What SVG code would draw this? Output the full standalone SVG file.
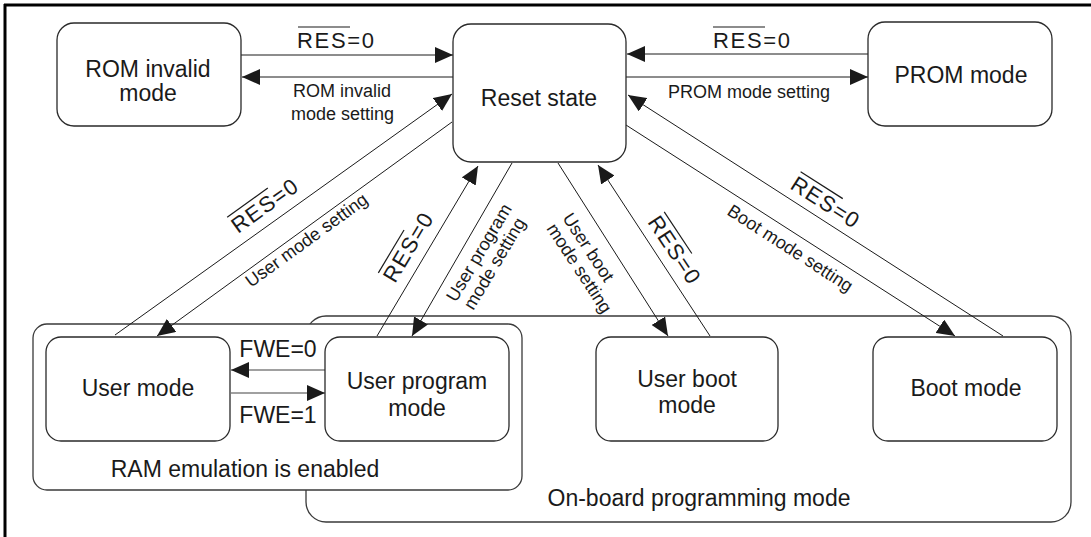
<svg xmlns="http://www.w3.org/2000/svg" width="1091" height="537" viewBox="0 0 1091 537">
<style>
  text { font-family: "Liberation Sans", Arial, sans-serif; fill: #1a1a1a; }
  .big { font-size: 23px; text-anchor: middle; }
  .sm { font-size: 18px; }
  .res { font-size: 22px; }
  .box { fill: #fff; stroke: #2a2a2a; stroke-width: 1.3; }
  .cont { fill: #fff; stroke: #3a3a3a; stroke-width: 1.3; }
  .conn { fill: none; stroke: #1a1a1a; stroke-width: 1; marker-end: url(#ah); }
  .fwe { fill: none; stroke: #808080; stroke-width: 1.6; marker-end: url(#ah); }
  .ovl { stroke: #1a1a1a; stroke-width: 1.2; }
</style>
<defs>
  <marker id="ah" viewBox="0 0 18 16" refX="18" refY="8" markerWidth="18" markerHeight="16" markerUnits="userSpaceOnUse" orient="auto">
    <path d="M0,0 L18,8 L0,16 z" fill="#1a1a1a"/>
  </marker>
</defs>
<rect width="1091" height="537" fill="#fff"/>
<!-- frame -->
<g id="frame" stroke="#000" stroke-width="3">
  <line x1="4" y1="5" x2="1091" y2="5"/>
  <line x1="5" y1="4" x2="5" y2="537"/>
</g>
<!-- containers -->
<g id="onboard">
  <rect class="cont" x="306" y="316" width="765" height="206" rx="20"/>
  <text class="big" x="699" y="506">On-board programming mode</text>
</g>
<g id="ram">
  <rect class="cont" x="33" y="324" width="489" height="166" rx="14"/>
  <text class="big" x="245" y="477">RAM emulation is enabled</text>
</g>
<!-- connectors -->
<g id="connectors">
  <path class="conn" d="M241,55 H453"/>
  <path class="conn" d="M453,77 H242"/>
  <path class="conn" d="M868,54 H627"/>
  <path class="conn" d="M626,77 H868"/>
  <path class="conn" d="M115,335 L452,94"/>
  <path class="conn" d="M452,122 L157,336"/>
  <path class="conn" d="M377,336 L478,166"/>
  <path class="conn" d="M512,163 L412,336"/>
  <path class="conn" d="M558,163 L668,336"/>
  <path class="conn" d="M710,336 L598,165"/>
  <path class="conn" d="M626,125 L955,336"/>
  <path class="conn" d="M1003,336 L628,95"/>
  <path class="fwe" d="M325,370 H231"/>
  <path class="fwe" d="M231,393 H325"/>
  <!-- labels -->
  <g>
    <text class="res" x="297" y="48" textLength="77">RES=0</text>
    <line class="ovl" x1="298" y1="27" x2="350" y2="27"/>
  </g>
  <text class="sm" x="293" y="97">ROM invalid</text>
  <text class="sm" x="291" y="120">mode setting</text>
  <g>
    <text class="res" x="713" y="48" textLength="77">RES=0</text>
    <line class="ovl" x1="713" y1="27" x2="765" y2="27"/>
  </g>
  <text class="sm" x="668" y="98">PROM mode setting</text>
  <g transform="translate(238,234) rotate(-35.6)">
    <text class="res" x="0" y="0" textLength="76">RES=0</text>
    <line class="ovl" x1="1" y1="-20" x2="51" y2="-20"/>
  </g>
  <g transform="translate(251,288) rotate(-36)">
    <text class="sm" x="0" y="0">User mode setting</text>
  </g>
  <g transform="translate(395,284) rotate(-59.1)">
    <text class="res" x="0" y="0" textLength="76">RES=0</text>
    <line class="ovl" x1="1" y1="-20" x2="51" y2="-20"/>
  </g>
  <g transform="translate(456,303) rotate(-59.2)">
    <text class="sm" x="0" y="0">User program</text>
    <text class="sm" x="2" y="19">mode setting</text>
  </g>
  <g transform="translate(562,218) rotate(56.8)">
    <text class="sm" x="0" y="0">User boot</text>
    <text class="sm" x="0" y="19">mode setting</text>
  </g>
  <g transform="translate(647,222) rotate(56.5)">
    <text class="res" x="0" y="0" textLength="76">RES=0</text>
    <line class="ovl" x1="1" y1="-20" x2="51" y2="-20"/>
  </g>
  <g transform="translate(726,214) rotate(32.8)">
    <text class="sm" x="0" y="0">Boot mode setting</text>
  </g>
  <g transform="translate(789,188) rotate(32.6)">
    <text class="res" x="0" y="0" textLength="76">RES=0</text>
    <line class="ovl" x1="1" y1="-20" x2="51" y2="-20"/>
  </g>
  <text class="big" x="278" y="357">FWE=0</text>
  <text class="big" x="278" y="423">FWE=1</text>
</g>
<!-- nodes -->
<g id="rom-invalid">
  <rect class="box" x="57" y="23" width="184" height="103" rx="17"/>
  <text class="big" x="148" y="77">ROM invalid</text>
  <text class="big" x="148" y="101">mode</text>
</g>
<g id="reset">
  <rect class="box" x="453" y="24" width="173" height="138" rx="18"/>
  <text class="big" x="539" y="106">Reset state</text>
</g>
<g id="prom">
  <rect class="box" x="868" y="22" width="184" height="104" rx="17"/>
  <text class="big" x="961" y="83">PROM mode</text>
</g>
<g id="user-mode">
  <rect class="box" x="46" y="337" width="184" height="104" rx="15"/>
  <text class="big" x="138" y="396">User mode</text>
</g>
<g id="user-program">
  <rect class="box" x="325" y="337" width="184" height="104" rx="15"/>
  <text class="big" x="417" y="389">User program</text>
  <text class="big" x="417" y="416">mode</text>
</g>
<g id="user-boot">
  <rect class="box" x="596" y="337" width="182" height="104" rx="15"/>
  <text class="big" x="687" y="387">User boot</text>
  <text class="big" x="687" y="413">mode</text>
</g>
<g id="boot">
  <rect class="box" x="873" y="337" width="184" height="104" rx="15"/>
  <text class="big" x="966" y="396">Boot mode</text>
</g>
</svg>
